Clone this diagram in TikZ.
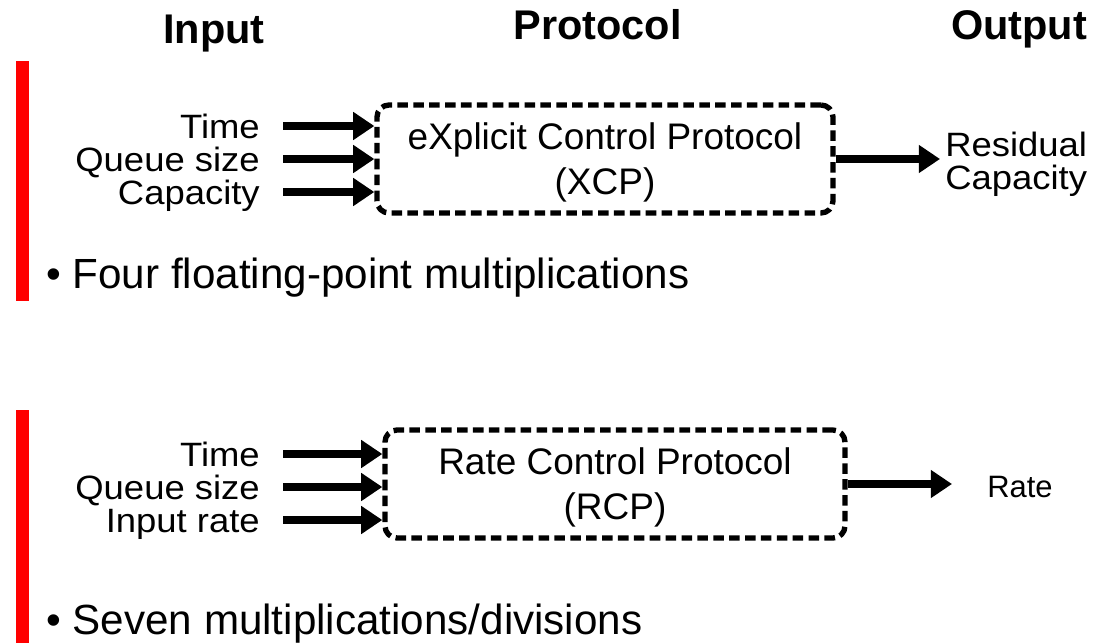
\documentclass[tikz,border=0pt]{standalone}
\usepackage{fontspec}
\setmainfont{Liberation Sans}
\newfontfamily\lblfont[FakeStretch=1.08]{Liberation Sans}
\usetikzlibrary{arrows.meta,positioning}
\definecolor{barred}{RGB}{255,0,0}

\begin{document}
\begin{tikzpicture}[line join=round,
	head/.style={font=\fontsize{29.5}{32}\selectfont\bfseries, inner sep=0pt, anchor=base},
	lbl/.style={font=\lblfont\fontsize{24}{26}\selectfont, inner sep=0pt, text height=17.2pt, text depth=0pt, anchor=east},
	outlbl/.style={font=\lblfont\fontsize{24}{23.5}\selectfont, inner ysep=0pt, align=left, anchor=west},
	proto/.style={draw, line width=3.8pt, dash pattern=on 7.5pt off 3.8pt, rounded corners=0.3cm,
		minimum height=2.7cm, align=center, inner sep=0pt, text depth=0pt, font=\fontsize{26.3}{32}\selectfont},
	arr/.style={line width=6pt, -{Triangle[length=15pt,width=19pt]}},
	bul/.style={font=\fontsize{30}{32}\selectfont, inner sep=0pt, anchor=base west}]
	\useasboundingbox (0,0) rectangle (27.85,-16.075);
	
	\node[head] (hin) at (5.35,-1.075) {Input};
	\node[head] (hproto) at (14.94,-0.975) {Protocol};
	\node[head] (hout) at (25.475,-0.975) {Output};
	
	\fill[barred] (0.4,-1.525) rectangle (0.725,-7.525);
	\fill[barred] (0.4,-10.25) rectangle (0.725,-16.075);
	
	% XCP
	\node[proto, minimum width=11.4cm] (xcp) at (15.125,-3.975) {eXplicit Control Protocol\\(XCP)};
	\node[lbl] (xtime) at (6.5,-3.15) {Time};
	\node[lbl] (xqueue) at (6.5,-3.975) {Queue size};
	\node[lbl] (xcap) at (6.5,-4.8) {Capacity};
	\foreach \n in {xtime,xqueue,xcap}
		\draw[arr] ([xshift=0.575cm]\n.east) -- (\n.east -| xcp.west);
	\node[outlbl, inner xsep=0.125cm] (xres) at (23.5,-4.1) {Residual\\Capacity};
	\draw[arr] (xcp.east) -- (xcp.east -| xres.west);
	\node[bul] (xnote) at (1.15,-7.2) {•\ Four floating-point multiplications};
	
	% RCP
	\node[proto, minimum width=11.5cm] (rcp) at (15.375,-12.1) {Rate Control Protocol\\(RCP)};
	\node[lbl] (rtime) at (6.5,-11.35) {Time};
	\node[lbl] (rqueue) at (6.5,-12.175) {Queue size};
	\node[lbl] (rrate) at (6.5,-13) {Input rate};
	\foreach \n in {rtime,rqueue,rrate}
		\draw[arr] ([xshift=0.575cm]\n.east) -- (\n.east -| rcp.west);
	\node[outlbl, font=\fontsize{22}{24}\selectfont, inner xsep=0.875cm] (rout) at (23.8,-12.175) {Rate};
	\draw[arr] (rcp.east) -- (rcp.east -| rout.west);
	\node[bul] (rnote) at (1.15,-15.85) {•\ Seven multiplications/divisions};
\end{tikzpicture}
\end{document}
